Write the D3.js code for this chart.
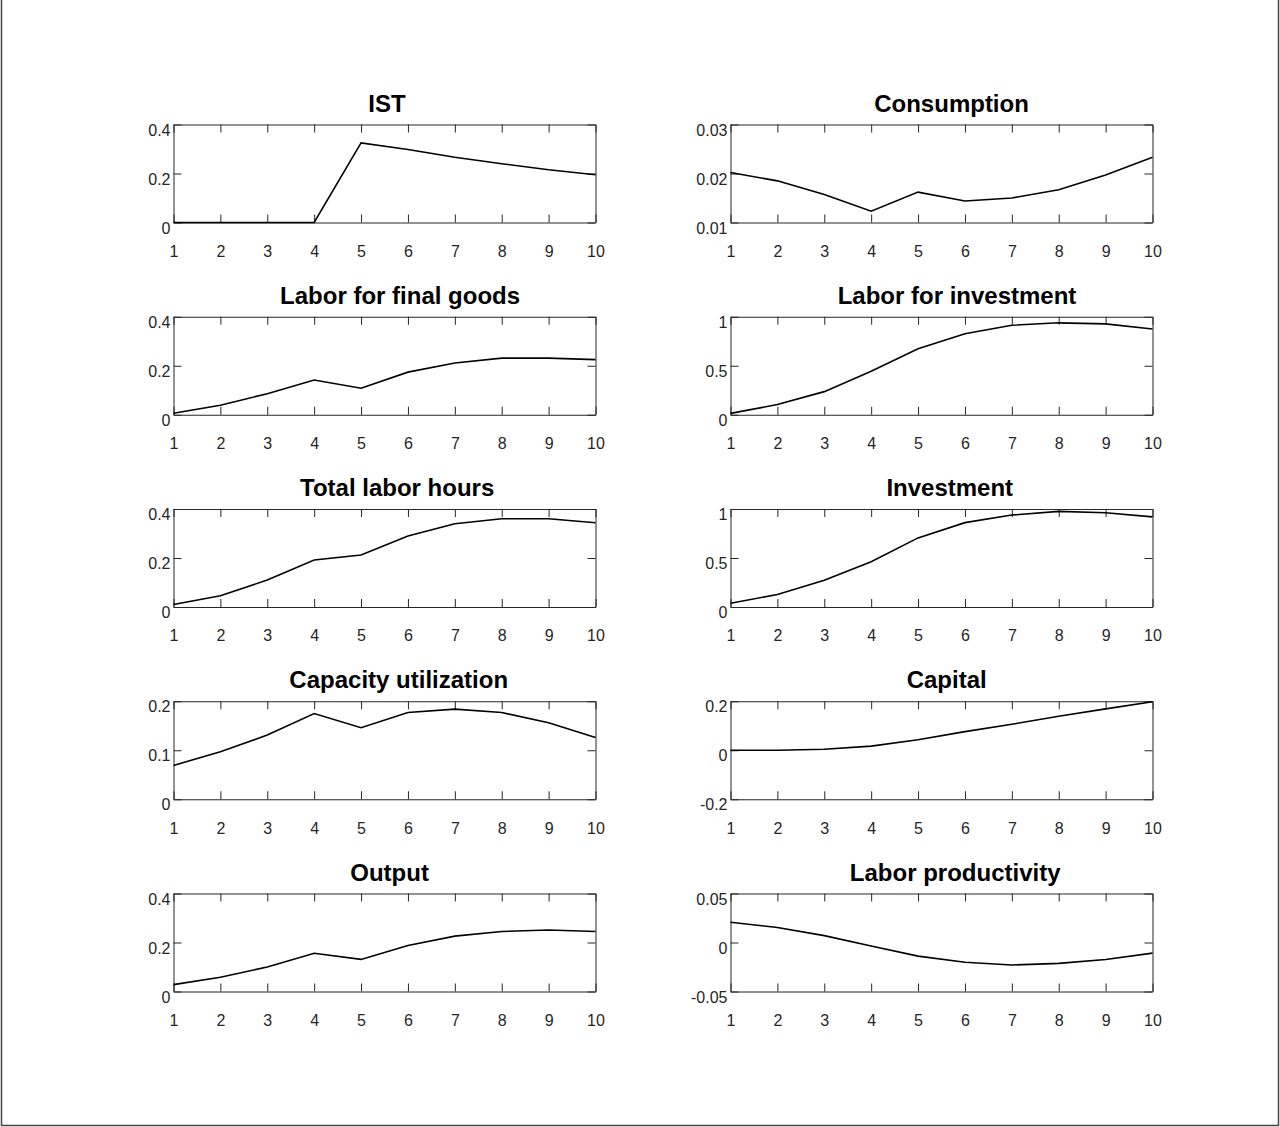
<!DOCTYPE html>
<html>
<head>
<meta charset="utf-8">
<script src="https://cdn.jsdelivr.net/npm/d3@7"></script>
<style>
  body { margin: 0; background: #fff; }
  svg { display: block; font-family: "Liberation Sans", Arial, sans-serif; }
</style>
</head>
<body>
<div id="chart"></div>
<script>
// impulse responses, periods 1..10
const periods = [1, 2, 3, 4, 5, 6, 7, 8, 9, 10];

const titles = [
  "IST", "Consumption",
  "Labor for final goods", "Labor for investment",
  "Total labor hours", "Investment",
  "Capacity utilization", "Capital",
  "Output", "Labor productivity"
];

const ist = [0, 0, 0, 0, 0.325, 0.298, 0.266, 0.240, 0.215, 0.195];
const consumption = [0.0202, 0.0185, 0.0157, 0.0123, 0.0162, 0.0144, 0.0150, 0.0167, 0.0197, 0.0233];
const laborFinal = [0.006, 0.039, 0.086, 0.142, 0.108, 0.174, 0.211, 0.231, 0.231, 0.225];
const laborInvest = [0.014, 0.104, 0.236, 0.444, 0.674, 0.826, 0.913, 0.938, 0.927, 0.875];
const totalHours = [0.010, 0.046, 0.110, 0.192, 0.212, 0.290, 0.340, 0.360, 0.360, 0.344];
const investment = [0.038, 0.128, 0.274, 0.462, 0.705, 0.861, 0.938, 0.976, 0.962, 0.920];
const capacity = [0.069, 0.097, 0.131, 0.175, 0.146, 0.177, 0.184, 0.177, 0.156, 0.126];
const capital = [0, 0, 0.004, 0.017, 0.043, 0.076, 0.106, 0.139, 0.169, 0.198];
const output = [0.028, 0.058, 0.100, 0.156, 0.131, 0.188, 0.226, 0.245, 0.251, 0.245];
const laborProd = [0.0206, 0.0153, 0.0070, -0.0035, -0.0139, -0.0202, -0.0230, -0.0213, -0.0174, -0.0108];

const yTicks = [
  [0, 0.2, 0.4], [0.01, 0.02, 0.03],
  [0, 0.2, 0.4], [0, 0.5, 1],
  [0, 0.2, 0.4], [0, 0.5, 1],
  [0, 0.1, 0.2], [-0.2, 0, 0.2],
  [0, 0.2, 0.4], [-0.05, 0, 0.05]
];

const series = [ist, consumption, laborFinal, laborInvest, totalHours,
                investment, capacity, capital, output, laborProd];

const width = 1280, height = 1127;
const colX = [173.5, 730.5];
const plotW = 422;
const plotH = 98;
const rowTop = i => 124.5 + i * 192.25;
const axisColor = "#262626";
const tickLen = 8;

const svg = d3.select("#chart")
  .append("svg")
  .attr("width", width)
  .attr("height", height);

// figure frame (left, bottom, right)
svg.append("path")
  .attr("d", `M1.5,0 V1125.5 H1278.5 V0`)
  .attr("fill", "none")
  .attr("stroke", "#444")
  .attr("stroke-width", 1.5);

const fmt = d => String(+d.toFixed(4));

titles.forEach((title, i) => {
  const col = i % 2, row = Math.floor(i / 2);
  const ticks = yTicks[i];

  const x = d3.scaleLinear().domain([1, 10]).range([0, plotW]);
  const y = d3.scaleLinear().domain(d3.extent(ticks)).range([plotH, 0]);

  const g = svg.append("g")
    .attr("transform", `translate(${colX[col]},${rowTop(row)})`);

  // bottom axis with labels
  const xAxis = g.append("g")
    .attr("transform", `translate(0,${plotH})`)
    .call(d3.axisBottom(x).tickValues(periods).tickFormat(d3.format("d"))
      .tickSize(-tickLen).tickSizeOuter(0).tickPadding(23));

  // top axis, ticks only
  const topAxis = g.append("g")
    .call(d3.axisTop(x).tickValues(periods).tickFormat("")
      .tickSize(-tickLen).tickSizeOuter(0));

  // left axis with labels
  const yAxis = g.append("g")
    .call(d3.axisLeft(y).tickValues(ticks).tickFormat(fmt)
      .tickSize(-tickLen).tickSizeOuter(0).tickPadding(3));
  yAxis.selectAll("text").attr("dy", "0.66em");

  // right axis, ticks only
  const rightAxis = g.append("g")
    .attr("transform", `translate(${plotW},0)`)
    .call(d3.axisRight(y).tickValues(ticks).tickFormat("")
      .tickSize(-tickLen).tickSizeOuter(0));

  [xAxis, topAxis, yAxis, rightAxis].forEach(a => {
    a.select(".domain").attr("stroke", axisColor);
    a.selectAll(".tick line").attr("stroke", axisColor);
    a.selectAll("text")
      .attr("fill", axisColor)
      .style("font-size", "16px")
      .style("font-family", "'Liberation Sans', Arial, sans-serif");
  });

  const line = d3.line()
    .x((d, j) => x(periods[j]))
    .y(d => y(d));

  g.append("path")
    .datum(series[i])
    .attr("d", line)
    .attr("fill", "none")
    .attr("stroke", "#000")
    .attr("stroke-width", 1.6);

  // titles in the original sit a little right of centre, more so when long
  const t = g.append("text")
    .attr("y", -13)
    .attr("text-anchor", "start")
    .style("font-size", "24px")
    .style("font-weight", "bold")
    .text(title);
  const tw = t.node().getComputedTextLength();
  t.attr("x", plotW / 2 - 0.435 * tw);
});
</script>
</body>
</html>
